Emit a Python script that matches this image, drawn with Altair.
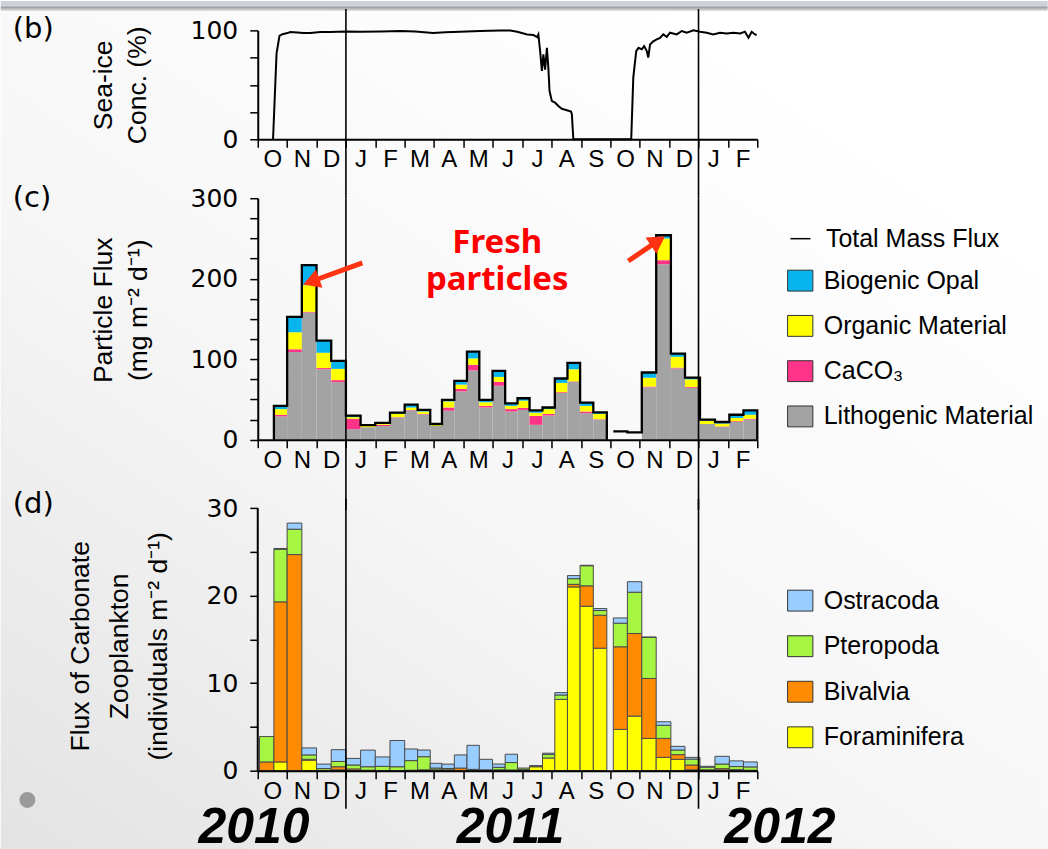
import json
import altair as alt
import pandas as pd

FONT = "Liberation Sans"
TICK_FONT = "DejaVu Sans"

# ---------------- data ----------------
month_labels = ["O", "N", "D", "J", "F", "M", "A", "M", "J", "J", "A", "S", "O", "N", "D", "J", "F"]
year_boundaries = [3, 15]          # Jan 2011, Jan 2012 (months since Oct 2010)
year_labels = ["2010", "2011", "2012"]
year_label_pos = [-0.13, 8.6, 17.77]

# (b) sea-ice concentration (month index since 1 Oct 2010, %)
ice_month = [0.52, 0.64, 0.74, 0.84, 1.01, 1.11, 1.35, 1.55, 1.79, 2.13, 2.47, 3.02, 3.5, 4.18,
             4.86, 5.36, 5.97, 6.38, 6.89, 7.57, 8.25, 8.59, 8.83, 9.17, 9.38, 9.51, 9.55, 9.61,
             9.67, 9.72, 9.78, 9.84, 9.89, 9.93, 10.01, 10.12, 10.23, 10.35, 10.52, 10.66, 10.69,
             10.74, 12.71, 12.78, 12.88, 12.96, 13.07, 13.15, 13.24, 13.29, 13.35, 13.46, 13.58,
             13.69, 13.8, 13.92, 14.03, 14.26, 14.43, 14.6, 14.83, 15.05, 15.28, 15.5, 15.73,
             15.96, 16.19, 16.42, 16.58, 16.7, 16.81, 16.92, 16.98]
ice_conc = [0, 79, 95, 96.5, 97.5, 98.5, 98, 97.5, 97.5, 98.5, 98.5, 99, 98.8, 99,
            99.5, 99, 97.5, 98.2, 98.7, 99.5, 100, 99.8, 98.8, 96.3, 95.7, 93.9, 96.3, 81,
            62.7, 78, 64, 84, 65.7, 44.3, 35, 33.6, 30.6, 28, 26.6, 25.4, 23,
            0, 0, 56.6, 81, 84, 82.6, 85.6, 81, 75, 87, 90, 91.7,
            93, 96.3, 94, 97.9, 96.3, 99.4, 97.9, 100, 98.8, 97.9, 96.3, 97.9,
            97.2, 97.9, 97.2, 98.8, 93.3, 98.8, 96.3, 95.7]

# sampling periods (month index)
period_start = [0.06, 0.55, 1.00, 1.50, 2.00, 2.50, 3.00, 3.50, 4.00, 4.50, 5.00, 5.44, 5.87, 6.27,
                6.69, 7.12, 7.54, 7.99, 8.42, 8.84, 9.25, 9.69, 10.11, 10.54, 10.97, 11.42, 12.10,
                12.58, 13.07, 13.56, 14.06, 14.54, 15.05, 15.56, 16.05, 16.53]
period_end = [0.55, 1.00, 1.50, 2.00, 2.50, 3.00, 3.50, 4.00, 4.50, 5.00, 5.44, 5.87, 6.27, 6.69,
              7.12, 7.54, 7.99, 8.42, 8.84, 9.25, 9.69, 10.11, 10.54, 10.97, 11.42, 11.88, 12.58,
              13.07, 13.56, 14.06, 14.54, 15.05, 15.56, 16.05, 16.53, 17.00]

# (c) particle flux, mg m-2 d-1
litho = [None, 29, 109, 158, 87.5, 71.5, 13, 15.5, 17, 27.5, 36.5, 31.5, 17, 36, 60, 86, 40, 67,
         35, 37, 18.5, 30, 58, 72, 33, 25, None, None, 65, 218, 88.5, 64.5, 19.5, 16, 22, 25]
caco3 = [None, 2, 3.5, 1, 1.5, 2.5, 13, 0, 1.5, 0.5, 0.5, 0.5, 0, 4, 3, 7, 2, 5,
         3, 2.5, 11, 2, 1, 0.5, 2, 0.5, None, None, 1, 5, 1, 1, 0, 0.5, 1, 1]
organic = [None, 7, 21, 33, 19, 14, 2, 1.5, 1, 4, 3, 3, 1.5, 7.5, 5.5, 8, 4.5, 6,
           4, 9, 4, 6, 11.5, 15, 7, 6.5, None, None, 11, 27, 13.5, 9.5, 4, 3.5, 4, 5]
opal = [None, 4, 19, 25, 15, 10, 2, 1, 1.5, 1.5, 3.5, 2, 1, 2, 4.5, 8.5, 3, 7.5,
        3, 3, 3, 2, 5.5, 8, 4, 2, None, None, 6.5, 4, 4, 2, 1.5, 2, 4, 5.5]
total_flux = [None, 42, 152.5, 217, 123, 98, 30, 18, 21, 33.5, 43.5, 37, 19.5, 49.5, 73, 109.5,
              49.5, 85.5, 45, 51.5, 36.5, 40, 76, 95.5, 46, 34, 10.3, 9.0, 83.5, 254, 107, 77,
              25, 22, 31, 36.5]
flux_segments = [(1, 25), (26, 35)]   # continuous runs of the total-flux outline

# (d) carbonate zooplankton, individuals m-2 d-1
foram = [0, 1.0, 0, 1.2, 0, 0.1, 0, 0, 0, 0, 0.05, 0, 0, 0, 0, 0, 0, 0, 0, 0.05, 0.45, 1.45,
         8.15, 21.0, 18.8, 14.0, 4.72, 6.24, 3.69, 1.52, 1.3, 0.1, 0, 0.08, 0, 0]
bival = [1.0, 18.3, 24.7, 0.1, 0.05, 0.35, 0.2, 0.05, 0, 0, 0, 0.1, 0.1, 0.1, 0.3, 0.05, 0, 0.1,
         0.08, 0.1, 0, 0, 0, 0.3, 2.33, 3.77, 9.44, 9.44, 6.85, 2.17, 0.53, 0.55, 0.1, 0.15,
         0.12, 0.05]
ptero = [2.9, 6.0, 2.9, 0.5, 0.2, 0.6, 0.45, 0.4, 0.5, 0.45, 1.1, 1.5, 0.2, 0.15, 0, 0.1, 0.1,
         0.28, 0.85, 0.15, 0.07, 0.4, 0.5, 0.65, 2.3, 0.53, 2.7, 4.72, 4.69, 1.5, 0.53, 0.67,
         0.3, 0.53, 0.35, 0.38]
ostra = [0, 0.1, 0.7, 0.8, 0.5, 1.35, 0.75, 1.9, 1.07, 3.0, 1.33, 0.76, 0.54, 0.5, 1.5, 2.75,
         1.2, 0.38, 0.95, 0, 0.05, 0.15, 0.27, 0.35, 0.05, 0.23, 0.6, 1.2, 0.05, 0.4, 0.42, 0.2,
         0.1, 0.88, 0.65, 0.57]

flux_names = ["Biogenic Opal", "Organic Material", "CaCO\u2083", "Lithogenic Material"]
flux_colors = ["#08b4ee", "#ffff00", "#ff3388", "#a3a3a3"]
zoo_names = ["Ostracoda", "Pteropoda", "Bivalvia", "Foraminifera"]
zoo_colors = ["#99ccff", "#a6f542", "#ff8c00", "#ffff00"]

arrow_tail_m = [3.56, 12.61]
arrow_tail_v = [219.6, 222.0]
arrow_head_m = [1.82, 13.62]
arrow_head_v = [196.5, 247.0]
arrow_angle = [250, 56]

# ---------------- layout constants ----------------
W = 500
HB = 109
HC = 241.7
HD = 272
D_TOP = 9.3
GAP = 59
LEFT = 257.3
TOP = 29.3
D_MAX = 30
D_DOMAIN_TOP = D_MAX * HD / (HD - D_TOP)   # leaves D_TOP px free above the "30" tick

xscale = alt.Scale(domain=[0, 17], nice=False, zero=False)
label_expr = "datum.value < 17 ? " + json.dumps(month_labels) + "[datum.value] : ''"


def x_axis():
    return alt.Axis(values=list(range(18)), labelExpr=label_expr, labelOffset=W / 17 / 2,
                    labelFlush=False, labelOverlap=False, labelBound=False,
                    labelFont=FONT, labelFontSize=24, labelColor="black", labelPadding=0.5,
                    tickSize=8, tickWidth=1.5, tickColor="black",
                    domainColor="black", domainWidth=2, grid=False, title=None, zindex=1)


def y_axis(values, label_every, title, title_x, title_y, lh, domain=True):
    return alt.Axis(values=values,
                    labelExpr="datum.value % " + str(label_every) + " === 0 ? datum.label : ''",
                    labelFont=TICK_FONT, labelFontSize=25, labelColor="black", labelPadding=12,
                    tickSize=8, tickWidth=1.5, tickColor="black",
                    domain=domain, domainColor="black", domainWidth=2, grid=False,
                    title=title, titleFont=FONT, titleFontSize=26.5, titleFontWeight="normal",
                    titleColor="black", titleAngle=270, titleBaseline="bottom",
                    titleAlign="center", titleX=title_x, titleY=title_y, titleLineHeight=lh,
                    labelOverlap=False, zindex=1)


one = pd.DataFrame({"k": [0]})
rules_df = pd.DataFrame({"m": year_boundaries})

# ---------------- panel (b) ----------------
bg = alt.Chart(one).mark_rect(
    color=alt.LinearGradient(gradient="linear", x1=0, y1=1, x2=0.75, y2=0.1,
                             stops=[alt.GradientStop(color="#e3e3e3", offset=0),
                                    alt.GradientStop(color="#f6f6f6", offset=0.5),
                                    alt.GradientStop(color="#ffffff", offset=1)])
).encode(x=alt.value(-LEFT), x2=alt.value(1048 - LEFT), y=alt.value(-TOP), y2=alt.value(849 - TOP))

header = alt.Chart(one).mark_rect(color="#cdd3d8").encode(
    x=alt.value(-LEFT), x2=alt.value(1048 - LEFT), y=alt.value(-TOP), y2=alt.value(-TOP + 5.5))
header2 = alt.Chart(one).mark_rect(
    color=alt.LinearGradient(gradient="linear", x1=0, y1=0, x2=0, y2=1,
                             stops=[alt.GradientStop(color="#8b9197", offset=0),
                                    alt.GradientStop(color="#e8e8e8", offset=1)])
).encode(x=alt.value(-LEFT), x2=alt.value(1048 - LEFT), y=alt.value(-TOP + 5.5), y2=alt.value(-TOP + 10))

ice_df = pd.DataFrame({"m": ice_month, "c": ice_conc})
yb = alt.Y("c:Q", scale=alt.Scale(domain=[0, 100], nice=False),
           axis=y_axis([0, 25, 50, 75, 100], 100, ["Sea-ice", "Conc. (%)"], -140.5, HB / 2, 34))
ice_line = alt.Chart(ice_df).mark_line(color="black", strokeWidth=2).encode(
    x=alt.X("m:Q", scale=xscale, axis=x_axis()), y=yb)

rule_b = alt.Chart(rules_df).mark_rule(color="black", strokeWidth=1.6).encode(
    x=alt.X("m:Q", scale=xscale, axis=x_axis()), y=alt.value(-TOP + 8), y2=alt.value(HB + GAP))


def panel_label(txt, y):
    return alt.Chart(pd.DataFrame({"t": [txt]})).mark_text(
        align="left", baseline="middle", font=TICK_FONT, fontSize=29, color="black"
    ).encode(text="t:N", x=alt.value(12 - LEFT), y=alt.value(y))


panel_b = alt.layer(bg, header, header2, ice_line, rule_b, panel_label("(b)", -1.5)).properties(
    width=W, height=HB)

# ---------------- panel (c) ----------------
rows = []
comp_lists = [litho, caco3, organic, opal]
comp_names_bottom_up = [flux_names[3], flux_names[2], flux_names[1], flux_names[0]]
for i in range(len(period_start)):
    for order, (vals, name) in enumerate(zip(comp_lists, comp_names_bottom_up)):
        v = vals[i]
        if v is not None and v > 0:
            rows.append({"p": i, "s": period_start[i], "e": period_end[i], "v": v,
                         "comp": name, "order": order})
flux_df = pd.DataFrame(rows)

line_rows = []
for seg, (a, b) in enumerate(flux_segments):
    k = 0
    if seg == 0:
        line_rows.append({"seg": seg, "i": k, "m": period_start[a], "t": 0}); k += 1
    for i in range(a, b + 1):
        line_rows.append({"seg": seg, "i": k, "m": period_start[i], "t": total_flux[i]}); k += 1
    line_rows.append({"seg": seg, "i": k, "m": period_end[b], "t": total_flux[b]}); k += 1
    line_rows.append({"seg": seg, "i": k, "m": period_end[b], "t": 0}); k += 1
line_df = pd.DataFrame(line_rows)
line_df["series"] = "Total Mass Flux"

yc_scale = alt.Scale(domain=[0, 300], nice=False)
yc_axis = y_axis(list(range(0, 301, 25)), 100, ["Particle Flux", "(mg m\u207b\u00b2 d\u207b\u00b9)"],
                 -140.5, 111.7, 35)

sq_path = "M-1.15,-0.95L1.15,-0.95L1.15,0.95L-1.15,0.95Z"

bars_c = alt.Chart(flux_df).transform_stack(
    stack="v", groupby=["p"], as_=["v0", "v1"], sort=[alt.SortField("order", "ascending")]
).mark_rect(strokeWidth=0).encode(
    x=alt.X("s:Q", scale=xscale, axis=x_axis()), x2="e:Q",
    y=alt.Y("v0:Q", scale=yc_scale, axis=yc_axis), y2="v1:Q",
    fill=alt.Fill("comp:N", scale=alt.Scale(domain=flux_names, range=flux_colors),
                  legend=alt.Legend(orient="none", legendX=530.5, legendY=70, title=None,
                                    symbolType=sq_path, symbolSize=484, symbolStrokeColor="#333",
                                    symbolStrokeWidth=1, labelFont=FONT, labelFontSize=25,
                                    labelColor="black", rowPadding=19.3, labelOffset=11, padding=0,
                                    symbolOpacity=1, labelLimit=400)))

line_c = alt.Chart(line_df).mark_line(interpolate="step-after", strokeWidth=2.3).encode(
    x=alt.X("m:Q", scale=xscale, axis=x_axis()),
    y=alt.Y("t:Q", scale=yc_scale, axis=yc_axis),
    detail="seg:N", order="i:Q",
    stroke=alt.Stroke("series:N", scale=alt.Scale(domain=["Total Mass Flux"], range=["black"]),
                      legend=alt.Legend(orient="none", legendX=530.7, legendY=28, title=None,
                                        symbolType="stroke", symbolSize=400,
                                        symbolStrokeWidth=1.5, labelFont=FONT, labelFontSize=25,
                                        labelColor="black", labelOffset=13, padding=0,
                                        labelLimit=400)))

rule_c = alt.Chart(rules_df).mark_rule(color="black", strokeWidth=1.6).encode(
    x=alt.X("m:Q", scale=xscale, axis=x_axis()), y=alt.value(0), y2=alt.value(HC + GAP + D_TOP + 2))

arrow_df = pd.DataFrame({"m0": arrow_tail_m, "v0": arrow_tail_v, "m1": arrow_head_m,
                         "v1": arrow_head_v, "ang": arrow_angle})
shaft = alt.Chart(arrow_df).mark_rule(color="#ff3311", strokeWidth=5).encode(
    x=alt.X("m0:Q", scale=xscale, axis=x_axis()), x2="m1:Q",
    y=alt.Y("v0:Q", scale=yc_scale, axis=yc_axis), y2="v1:Q")
head = alt.Chart(arrow_df).mark_point(shape="triangle-up", filled=True, size=380,
                                      color="#ff3311", opacity=1).encode(
    x=alt.X("m1:Q", scale=xscale, axis=x_axis()),
    y=alt.Y("v1:Q", scale=yc_scale, axis=yc_axis),
    angle=alt.Angle("ang:Q", scale=None))

fresh = alt.Chart(pd.DataFrame({"t": ["Fresh\nparticles"], "m": [8.15], "v": [244]})).mark_text(
    font="Noto Sans", fontSize=33, fontWeight="bold", color="#ff0000", lineBreak="\n",
    lineHeight=37, align="center", baseline="middle"
).encode(text="t:N", x=alt.X("m:Q", scale=xscale, axis=x_axis()),
         y=alt.Y("v:Q", scale=yc_scale, axis=yc_axis))

panel_c = alt.layer(bars_c, line_c, rule_c, shaft, head, fresh, panel_label("(c)", 0)).properties(
    width=W, height=HC)

# ---------------- panel (d) ----------------
zrows = []
zoo_lists = [foram, bival, ptero, ostra]
zoo_names_bottom_up = [zoo_names[3], zoo_names[2], zoo_names[1], zoo_names[0]]
for i in range(len(period_start)):
    for order, (vals, name) in enumerate(zip(zoo_lists, zoo_names_bottom_up)):
        v = vals[i]
        if v > 0:
            zrows.append({"p": i, "s": period_start[i], "e": period_end[i], "v": v,
                          "comp": name, "order": order})
zoo_df = pd.DataFrame(zrows)

yd_scale = alt.Scale(domain=[0, D_DOMAIN_TOP], nice=False)
yd_axis = y_axis(list(range(0, D_MAX + 1, 5)), 10,
                 ["Flux of Carbonate", "Zooplankton", "(individuals m\u207b\u00b2 d\u207b\u00b9)"],
                 -163, 147, 39, domain=False)

bars_d = alt.Chart(zoo_df).transform_stack(
    stack="v", groupby=["p"], as_=["v0", "v1"], sort=[alt.SortField("order", "ascending")]
).mark_rect(stroke="#4a4a4a", strokeWidth=1).encode(
    x=alt.X("s:Q", scale=xscale, axis=x_axis()), x2="e:Q",
    y=alt.Y("v0:Q", scale=yd_scale, axis=yd_axis), y2="v1:Q",
    fill=alt.Fill("comp:N", scale=alt.Scale(domain=zoo_names, range=zoo_colors),
                  legend=alt.Legend(orient="none", legendX=530.5, legendY=89.3, title=None,
                                    symbolType=sq_path, symbolSize=484, symbolStrokeColor="#333",
                                    symbolStrokeWidth=1, labelFont=FONT, labelFontSize=25,
                                    labelColor="black", rowPadding=19.6, labelOffset=11, padding=0,
                                    symbolOpacity=1, labelLimit=400)))

# y-axis line of panel (d), drawn from 0 to 30 only
yline_d = alt.Chart(one).mark_rule(color="black", strokeWidth=2).encode(
    x=alt.value(0), y=alt.datum(0, scale=yd_scale), y2=alt.datum(D_MAX))

rule_d = alt.Chart(rules_df).mark_rule(color="black", strokeWidth=1.6).encode(
    x=alt.X("m:Q", scale=xscale, axis=x_axis()), y=alt.value(0), y2=alt.value(HD + 38))

years = alt.Chart(pd.DataFrame({"t": year_labels, "m": year_label_pos})).mark_text(
    font=FONT, fontSize=50, fontWeight="bold", fontStyle="italic", color="black",
    align="center", baseline="middle"
).encode(text="t:N", x=alt.X("m:Q", scale=xscale, axis=x_axis()), y=alt.value(329.5))

dot = alt.Chart(one).mark_point(filled=True, size=254, color="#9a9a9a", opacity=1).encode(
    x=alt.value(26.7 - LEFT), y=alt.value(799.3 - 498))

panel_d = alt.layer(bars_d, yline_d, rule_d, years, dot, panel_label("(d)", 5)).properties(
    width=W, height=HD)

chart = alt.vconcat(panel_b, panel_c, panel_d, spacing=GAP, bounds="flush").resolve_scale(
    fill="independent", stroke="independent"
).resolve_legend(fill="independent", stroke="independent").properties(
    padding=0, background="#ffffff"
).configure_view(stroke=None)

chart.save("out.html", embed_options={"renderer": "svg", "actions": False})
